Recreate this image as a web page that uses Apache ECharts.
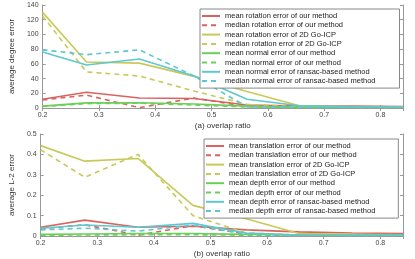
<!DOCTYPE html>
<html><head><meta charset="utf-8">
<script src="https://cdn.jsdelivr.net/npm/echarts@6/dist/echarts.min.js"></script>
<style>html,body{margin:0;padding:0;background:#fff}#c{width:415px;height:259px}</style>
</head><body><div id="c"></div>
<script>
var overlap = [0.2, 0.278, 0.372, 0.469, 0.563, 0.656, 0.75, 0.84];
var xTicks = ['0.2','0.3','0.4','0.5','0.6','0.7','0.8'];
// (a) degree errors
var rotMeanOurs    = [12, 21.5, 13.5, 13, 4, 2.5, 2.5, 2];
var rotMedianOurs  = [11, 17.5, 0.5, 13.5, 2, 1, 1, 1];
var rotMeanGo      = [130, 62.5, 61, 43, 22.5, 3, 1.5, 1];
var rotMedianGo    = [125, 49, 43.5, 23, 5, 1.5, 1, 1];
var normMeanOurs   = [2.5, 7, 7.2, 5.5, 2.5, 1, 1, 1];
var normMedianOurs = [2, 6, 6.5, 4, 1.5, 0.5, 0.5, 0.5];
var normMeanRan    = [76, 58.5, 66.5, 43.5, 12, 3, 1.5, 1];
var normMedianRan  = [79, 72.5, 79, 43.5, 1.5, 1, 1, 1];
// (b) L-2 errors
var transMeanOurs    = [0.043, 0.078, 0.043, 0.048, 0.03, 0.02, 0.015, 0.012];
var transMedianOurs  = [0.035, 0.055, 0.004, 0.05, 0.01, 0.005, 0.005, 0.005];
var transMeanGo      = [0.443, 0.367, 0.38, 0.15, 0.085, 0.012, 0.008, 0.006];
var transMedianGo    = [0.423, 0.288, 0.40, 0.10, 0.015, 0.005, 0.005, 0.005];
var depthMeanOurs    = [0.008, 0.01, 0.012, 0.012, 0.008, 0.005, 0.004, 0.004];
var depthMedianOurs  = [0.004, 0.005, 0.006, 0.006, 0.004, 0.003, 0.003, 0.003];
var depthMeanRan     = [0.038, 0.054, 0.043, 0.062, 0.015, 0.005, 0.004, 0.004];
var depthMedianRan   = [0.03, 0.038, 0.024, 0.053, 0.01, 0.004, 0.003, 0.003];

var names1 = ['mean rotation error of our method','median rotation error of our method',
 'mean rotation error of 2D Go-ICP','median rotation error of 2D Go-ICP',
 'mean normal error of our method','median normal error of our method',
 'mean normal error of ransac-based method','median normal error of ransac-based method'];
var names2 = ['mean translation error of our method','median translation error of our method',
 'mean translation error of 2D Go-ICP','median translation error of 2D Go-ICP',
 'mean depth error of our method','median depth error of our method',
 'mean depth error of ransac-based method','median depth error of ransac-based method'];
var data1 = [rotMeanOurs, rotMedianOurs, rotMeanGo, rotMedianGo, normMeanOurs, normMedianOurs, normMeanRan, normMedianRan];
var data2 = [transMeanOurs, transMedianOurs, transMeanGo, transMedianGo, depthMeanOurs, depthMedianOurs, depthMeanRan, depthMedianRan];
var colors = ['#d9645f','#d9645f','#c9c95a','#c9c95a','#6ccf5a','#6ccf5a','#5cc8d0','#5cc8d0'];

var FONT = 'Liberation Sans, Arial, sans-serif';
function pair(arr){ return overlap.map(function(x,i){ return [x, arr[i]]; }); }
var series = [];
function addSeries(names, data, gi){
  names.forEach(function(n,i){
    series.push({name:n, type:'line', xAxisIndex:gi*2, yAxisIndex:gi*2, data:pair(data[i]),
      showSymbol:false, symbol:'none', animation:false,
      lineStyle:{color:colors[i], width:1.6, type: i%2 ? [5,4] : 'solid'},
      itemStyle:{color:colors[i]}});
  });
}
addSeries(names1, data1, 0);
addSeries(names2, data2, 1);

function xAx(gi, name){
  return [{type:'value', gridIndex:gi, min:0.2, max:0.84, interval:0.1,
    name:name, nameLocation:'middle', nameGap:14,
    nameTextStyle:{fontSize:8, color:'#333', fontFamily:FONT},
    axisLine:{show:true, lineStyle:{color:'#999', width:1}},
    axisTick:{show:true, inside:true, length:3, lineStyle:{color:'#999'}},
    axisLabel:{fontSize:7, color:'#444', fontFamily:FONT, margin:4, showMaxLabel:false,
      formatter:function(v){ return v.toFixed(1); }},
    splitLine:{show:false}},
   {type:'value', gridIndex:gi, position:'top', min:0.2, max:0.84, interval:0.1,
    axisLine:{show:true, lineStyle:{color:'#999', width:1}},
    axisTick:{show:true, inside:true, length:3, lineStyle:{color:'#999'}},
    axisLabel:{show:false}, splitLine:{show:false}}];
}
function yAx(gi, name, max, interval, fmt){
  return [{type:'value', gridIndex:gi, min:0, max:max, interval:interval,
    name:name, nameLocation:'middle', nameGap:20,
    nameTextStyle:{fontSize:8, color:'#333', fontFamily:FONT},
    axisLine:{show:true, lineStyle:{color:'#999', width:1}},
    axisTick:{show:true, inside:true, length:3, lineStyle:{color:'#999'}},
    axisLabel:{fontSize:7, color:'#444', fontFamily:FONT, margin:4, formatter:fmt},
    splitLine:{show:false}},
   {type:'value', gridIndex:gi, position:'right', min:0, max:max, interval:interval,
    axisLine:{show:true, lineStyle:{color:'#999', width:1}},
    axisTick:{show:true, inside:true, length:3, lineStyle:{color:'#999'}},
    axisLabel:{show:false}, splitLine:{show:false}}];
}
function legend(names, left, top, padR){
  return {data:names, orient:'vertical', left:left, top:top, itemWidth:18, itemHeight:7, itemGap:1.3,
    padding:[3,padR,3,1], backgroundColor:'#fff', borderColor:'#888', borderWidth:1,
    itemStyle:{opacity:0, color:'rgba(0,0,0,0)', borderWidth:0},
    textStyle:{fontSize:7.5, lineHeight:8, color:'#222', fontFamily:FONT}, selectedMode:false};
}

var chart = echarts.init(document.getElementById('c'), null, {renderer:'canvas'});
chart.setOption({
  animation:false,
  grid:[{left:33, right:12, top:5, height:103}, {left:33, right:12, top:134, height:104}],
  xAxis: xAx(0,'(a) overlap ratio').concat(xAx(1,'(b) overlap ratio')),
  yAxis: yAx(0,'average degree error',140,20,function(v){return String(v);})
    .concat(yAx(1,'average L-2 error',0.5,0.1,function(v){return v===0?'0':v.toFixed(1);})),
  legend:[legend(names1, 200, 9, 24), legend(names2, 204, 139, 23)],
  series: series
});
</script></body></html>
